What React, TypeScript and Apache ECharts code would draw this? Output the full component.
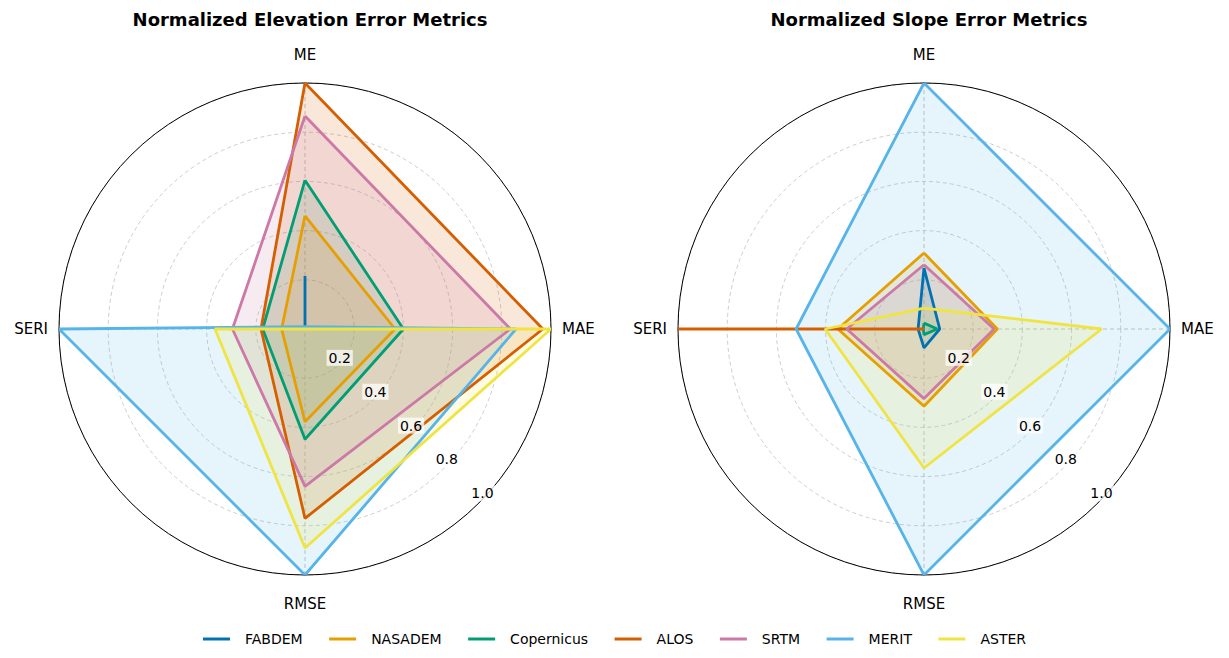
import React, { useEffect, useRef } from "react";
import * as echarts from "echarts";

// ---- data ----
const categories = ["ME", "MAE", "RMSE", "SERI"];
const datasetNames = ["FABDEM", "NASADEM", "Copernicus", "ALOS", "SRTM", "MERIT", "ASTER"];
const datasetColors = ["#0072B2", "#E69F00", "#009E73", "#D55E00", "#CC79A7", "#56B4E9", "#F0E442"];
const chartTitles = ["Normalized Elevation Error Metrics", "Normalized Slope Error Metrics"];
const radialTickStep = 0.2;
const radialMax = 1.0;

// Elevation (ME, MAE, RMSE, SERI)
const elevFABDEM = [0.215, 0, 0, 0];
const elevNASADEM = [0.46, 0.366, 0.377, 0.095];
const elevCopernicus = [0.605, 0.4, 0.448, 0.172];
const elevALOS = [1.0, 0.967, 0.77, 0.179];
const elevSRTM = [0.866, 0.835, 0.64, 0.295];
const elevMERIT = [0.01, 0.858, 1.0, 1.0];
const elevASTER = [0.0, 1.0, 0.89, 0.366];

// Slope (ME, MAE, RMSE, SERI)
const slopeFABDEM = [0.248, 0.064, 0.077, 0.024];
const slopeNASADEM = [0.309, 0.298, 0.314, 0.35];
const slopeCopernicus = [0.024, 0.054, 0.023, 0.003];
const slopeALOS = [0, 0, 0, 1.0];
const slopeSRTM = [0.261, 0.285, 0.283, 0.314];
const slopeMERIT = [1.0, 1.0, 1.0, 0.52];
const slopeASTER = [0.085, 0.722, 0.565, 0.402];

const elevationSeries = [elevFABDEM, elevNASADEM, elevCopernicus, elevALOS, elevSRTM, elevMERIT, elevASTER];
const slopeSeries = [slopeFABDEM, slopeNASADEM, slopeCopernicus, slopeALOS, slopeSRTM, slopeMERIT, slopeASTER];
const allCharts = [elevationSeries, slopeSeries];

const FONT = "DejaVu Sans";

export default function App() {
  const ref = useRef<HTMLDivElement>(null);

  useEffect(() => {
    if (!ref.current) return;
    const chart = echarts.init(ref.current, null, { renderer: "svg" });

    const centers = [
      [305, 329],
      [924, 329],
    ];
    const R = 246;
    const step = 360 / categories.length;

    const polar: any[] = [];
    const angleAxis: any[] = [];
    const radiusAxis: any[] = [];
    const series: any[] = [];
    const title: any[] = [];

    centers.forEach((c, k) => {
      const main = polar.length;
      polar.push({ center: c, radius: R });
      const lab = polar.length;
      polar.push({ center: c, radius: R });

      angleAxis.push({
        polarIndex: main,
        type: "value",
        min: 0,
        max: 360,
        interval: step,
        startAngle: 90,
        clockwise: true,
        axisLine: { lineStyle: { color: "#000", width: 1 } },
        axisTick: { show: false },
        axisLabel: {
          margin: 11,
          color: "#000",
          fontSize: 15,
          fontFamily: FONT,
          formatter: (v: number) => {
            const i = Math.round(v / step);
            const name = v < 360 ? categories[i] : undefined;
            if (!name) return "";
            return i % 2 === 0 ? `{tb|${name}}` : `{lr|${name}}`;
          },
          rich: {
            tb: { fontSize: 15, fontFamily: FONT, color: "#000", padding: [10, 0, 10, 0] },
            lr: { fontSize: 15, fontFamily: FONT, color: "#000" },
          },
        },
        splitLine: { show: true, lineStyle: { type: [4, 3], color: "#b4b4b4", width: 0.8 } },
      });
      radiusAxis.push({
        polarIndex: main,
        type: "value",
        min: 0,
        max: radialMax,
        interval: radialTickStep,
        axisLine: { show: false },
        axisTick: { show: false },
        axisLabel: { show: false },
        splitLine: { show: true, lineStyle: { type: [4, 3], color: "#c0c0c0", width: 0.8 } },
      });

      angleAxis.push({
        polarIndex: lab,
        type: "value",
        min: 0,
        max: 360,
        startAngle: -43.5,
        show: false,
      });
      radiusAxis.push({
        polarIndex: lab,
        type: "value",
        min: 0,
        max: radialMax,
        interval: radialTickStep,
        z: 50,
        axisLine: { show: false },
        axisTick: { show: false },
        splitLine: { show: false },
        axisLabel: {
          show: true,
          margin: 0,
          align: "center",
          verticalAlign: "middle",
          padding: [0, 2, 10, 0],
          formatter: (v: number) => (v < 1e-9 ? "" : `{b|${v.toFixed(1)}}`),
          rich: {
            b: {
              fontSize: 14,
              fontFamily: FONT,
              color: "#000",
              backgroundColor: "rgba(255,255,255,0.72)",
              padding: [1, 2, 1, 2],
            },
          },
        },
      });

      title.push({
        text: chartTitles[k],
        left: c[0],
        top: 5,
        textAlign: "center",
        textStyle: { fontSize: 18, fontWeight: "bold", fontFamily: FONT, color: "#000" },
      });

      allCharts[k].forEach((vals, j) => {
        const data = vals.map((v, i) => [v, i * step]);
        data.push([vals[0], 360]);
        series.push({
          type: "line",
          name: datasetNames[j],
          coordinateSystem: "polar",
          polarIndex: main,
          data,
          symbol: "none",
          clip: false,
          z: 2,
          lineStyle: { width: 0, opacity: 0 },
          itemStyle: { color: datasetColors[j] },
          areaStyle: { color: datasetColors[j], opacity: 0.15 },
        });
        series.push({
          type: "line",
          name: datasetNames[j],
          coordinateSystem: "polar",
          polarIndex: main,
          data,
          symbol: "none",
          clip: false,
          z: 10 + j,
          lineStyle: { color: datasetColors[j], width: 2.8 },
          itemStyle: { color: datasetColors[j] },
        });
      });
    });

    chart.setOption({
      animation: false,
      backgroundColor: "#fff",
      title,
      polar,
      angleAxis,
      radiusAxis,
      legend: {
        data: datasetNames,
        left: "center",
        top: 627,
        icon: "rect",
        itemWidth: 27,
        itemHeight: 3,
        itemGap: 26.5,
        textStyle: { fontSize: 14, fontFamily: FONT, color: "#000", padding: [0, 0, 0, 10] },
      },
      series,
    });

    return () => chart.dispose();
  }, []);

  return (
    <div
      ref={ref}
      style={{ position: "fixed", left: 0, top: 0, width: 1229, height: 658, background: "#fff" }}
    />
  );
}
